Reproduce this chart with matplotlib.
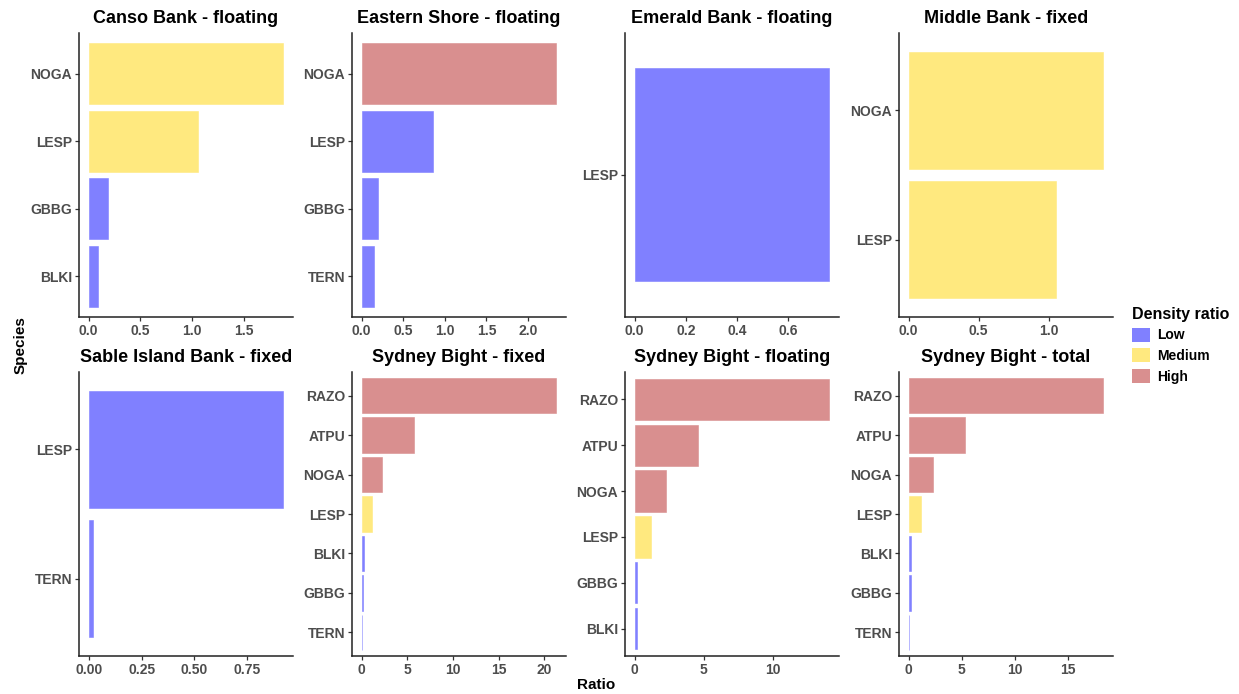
import matplotlib
matplotlib.use("Agg")
import matplotlib.pyplot as plt
from matplotlib.patches import Patch
from matplotlib.ticker import MultipleLocator, FormatStrFormatter

plt.rcParams['font.family'] = ['Liberation Sans', 'DejaVu Sans']

# ---- data: one entry per facet (species listed top to bottom) ----
canso_species = ["NOGA", "LESP", "GBBG", "BLKI"]
canso_ratio = [1.88, 1.06, 0.19, 0.09]
canso_level = ["Medium", "Medium", "Low", "Low"]

eastern_species = ["NOGA", "LESP", "GBBG", "TERN"]
eastern_ratio = [2.34, 0.855, 0.20, 0.145]
eastern_level = ["High", "Low", "Low", "Low"]

emerald_species = ["LESP"]
emerald_ratio = [0.76]
emerald_level = ["Low"]

middle_species = ["NOGA", "LESP"]
middle_ratio = [1.39, 1.055]
middle_level = ["Medium", "Medium"]

sable_species = ["LESP", "TERN"]
sable_ratio = [0.92, 0.02]
sable_level = ["Low", "Low"]

sydfix_species = ["RAZO", "ATPU", "NOGA", "LESP", "BLKI", "GBBG", "TERN"]
sydfix_ratio = [21.3, 5.7, 2.25, 1.14, 0.26, 0.17, 0.05]
sydfix_level = ["High", "High", "High", "Medium", "Low", "Low", "Low"]

sydflo_species = ["RAZO", "ATPU", "NOGA", "LESP", "GBBG", "BLKI"]
sydflo_ratio = [14.1, 4.55, 2.27, 1.16, 0.19, 0.19]
sydflo_level = ["High", "High", "High", "Medium", "Low", "Low"]

sydtot_species = ["RAZO", "ATPU", "NOGA", "LESP", "BLKI", "GBBG", "TERN"]
sydtot_ratio = [18.3, 5.25, 2.3, 1.13, 0.19, 0.19, 0.03]
sydtot_level = ["High", "High", "High", "Medium", "Low", "Low", "Low"]

titles = ["Canso Bank - floating", "Eastern Shore - floating",
          "Emerald Bank - floating", "Middle Bank - fixed",
          "Sable Island Bank - fixed", "Sydney Bight - fixed",
          "Sydney Bight - floating", "Sydney Bight - total"]

levels = ["Low", "Medium", "High"]

# ---- styling ----
level_colors = {"Low": "#8080FF", "Medium": "#FFE97F", "High": "#D98F8F"}
tick_steps = [0.5, 0.5, 0.2, 0.5, 0.25, 5, 5, 5]
tick_fmt = ["%.1f", "%.1f", "%.1f", "%.1f", "%.2f", "%d", "%d", "%d"]

panels = [
    (canso_species, canso_ratio, canso_level),
    (eastern_species, eastern_ratio, eastern_level),
    (emerald_species, emerald_ratio, emerald_level),
    (middle_species, middle_ratio, middle_level),
    (sable_species, sable_ratio, sable_level),
    (sydfix_species, sydfix_ratio, sydfix_level),
    (sydflo_species, sydflo_ratio, sydflo_level),
    (sydtot_species, sydtot_ratio, sydtot_level),
]

W, H = 1239, 694
fig = plt.figure(figsize=(W / 100, H / 100), dpi=100)

col_left = [79, 352, 625, 899]
panel_w = 214
row_top = [33, 372]
panel_h = 284

tick_color = "#4D4D4D"

for i, (species, ratio, level) in enumerate(panels):
    r, c = divmod(i, 4)
    ax = fig.add_axes([col_left[c] / W, 1 - (row_top[r] + panel_h) / H,
                       panel_w / W, panel_h / H])
    n = len(species)
    ypos = list(range(n, 0, -1))
    cols = [level_colors[l] for l in level]
    ax.barh(ypos, ratio, height=0.9, color=cols, edgecolor=cols,
            linewidth=0.4)
    vmax = max(ratio)
    ax.set_xlim(-0.05 * vmax, 1.05 * vmax)
    ax.set_ylim(0.4, n + 0.6)
    ax.set_yticks(ypos)
    ax.set_yticklabels(species)
    ax.xaxis.set_major_locator(MultipleLocator(tick_steps[i]))
    ax.xaxis.set_major_formatter(FormatStrFormatter(tick_fmt[i]))
    for side in ("top", "right"):
        ax.spines[side].set_visible(False)
    for side in ("left", "bottom"):
        ax.spines[side].set_linewidth(1.1)
        ax.spines[side].set_color("#222222")
    ax.tick_params(axis="both", length=3, width=0.9, color="#333333",
                   labelcolor=tick_color, labelsize=10, pad=2)
    for lab in ax.get_xticklabels() + ax.get_yticklabels():
        lab.set_fontweight("bold")
    ax.set_title(titles[i], fontsize=13, fontweight="bold", pad=7)

fig.text(596 / W, 1 - 685 / H, "Ratio", ha="center", va="center",
         fontsize=11, fontweight="bold")
fig.text(21 / W, 1 - 345 / H, "Species", ha="center", va="center",
         rotation=90, fontsize=11, fontweight="bold")

handles = [Patch(facecolor=level_colors[l], edgecolor="none", label=l)
           for l in levels]
leg = fig.legend(handles=handles, title="Density ratio",
                 loc="upper left", bbox_to_anchor=(1122 / W, 1 - 297 / H),
                 frameon=False, fontsize=10, title_fontsize=11.5,
                 handlelength=1.3, handleheight=1.2, handletextpad=0.5,
                 labelspacing=0.42, borderpad=0.2, alignment="left")
leg.get_title().set_fontweight("bold")
for t in leg.get_texts():
    t.set_fontweight("bold")

fig.savefig("out.png", dpi=100, facecolor="white")
